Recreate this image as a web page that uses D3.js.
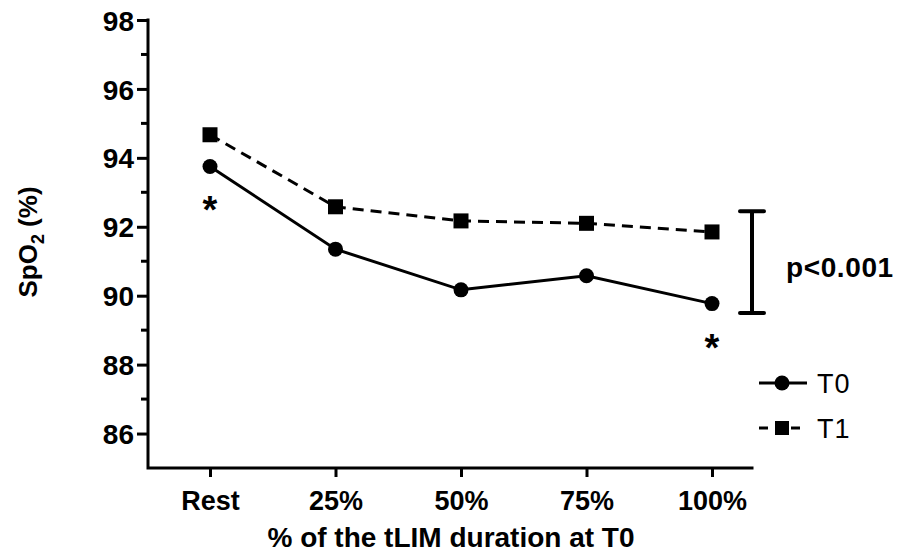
<!DOCTYPE html>
<html>
<head>
<meta charset="utf-8">
<script src="https://cdn.jsdelivr.net/npm/d3@7"></script>
<style>
  body { margin: 0; background: #fff; }
  svg text { font-family: "Liberation Sans", Arial, sans-serif; fill: #000; }
</style>
</head>
<body>
<svg id="chart" width="901" height="554"></svg>
<script>
// data
var categories = ['Rest', '25%', '50%', '75%', '100%'];
var t0 = [93.75, 91.35, 90.17, 90.58, 89.77];
var t1 = [94.67, 92.58, 92.17, 92.10, 91.85];
var starIdx = [0, 4];          // points of T0 flagged with *
var bracket = [89.5, 92.45];   // span of the significance bar
var yMajor = [86, 88, 90, 92, 94, 96, 98];
var yMinor = [87, 89, 91, 93, 95, 97];

var svg = d3.select('#chart');

var x = d3.scalePoint().domain(categories).range([210, 712]);
var y = d3.scaleLinear().domain([85, 98]).range([468, 20]);

var axisLeft = 148, axisRight = 752, axisBottom = y(85);

// y axis
var yAxis = svg.append('g').attr('transform', `translate(${axisLeft},0)`);
yAxis.call(d3.axisLeft(y).tickValues(yMajor).tickSize(11).tickPadding(3).tickFormat(d3.format('d')));
yAxis.select('.domain').remove();
yAxis.selectAll('.tick line').attr('stroke-width', 3);
yAxis.selectAll('.tick text').attr('font-size', 28).attr('font-weight', 'bold').attr('dy', '0.36em');
yAxis.selectAll('line.minor').data(yMinor).enter().append('line')
    .attr('class', 'minor')
    .attr('x1', -7).attr('x2', 0)
    .attr('y1', d => y(d)).attr('y2', d => y(d))
    .attr('stroke', '#000').attr('stroke-width', 3);

// x axis
var xAxis = svg.append('g').attr('transform', `translate(0,${axisBottom})`);
xAxis.call(d3.axisBottom(x).tickSize(9).tickPadding(14));
xAxis.select('.domain').remove();
xAxis.selectAll('.tick line').attr('stroke-width', 3);
xAxis.selectAll('.tick text').attr('font-size', 27).attr('font-weight', 'bold');

// axis lines (L-shape)
svg.append('path')
    .attr('d', `M${axisLeft},${y(98)}V${axisBottom}H${axisRight}`)
    .attr('fill', 'none').attr('stroke', '#000').attr('stroke-width', 3)
    .attr('stroke-linecap', 'square');

// titles
svg.append('text')
    .attr('x', 451).attr('y', 547)
    .attr('text-anchor', 'middle')
    .attr('font-size', 28).attr('font-weight', 'bold')
    .text('% of the tLIM duration at T0');

var yTitle = svg.append('text')
    .attr('transform', 'translate(37,242) rotate(-90)')
    .attr('text-anchor', 'middle')
    .attr('font-size', 26).attr('font-weight', 'bold');
yTitle.append('tspan').text('SpO');
yTitle.append('tspan').attr('font-size', 18).attr('dy', 7).text('2');
yTitle.append('tspan').attr('dy', -7).text(' (%)');

// lines
var line = d3.line().x((d, i) => x(categories[i])).y(d => y(d));

svg.append('path').datum(t1)
    .attr('d', line)
    .attr('fill', 'none').attr('stroke', '#000').attr('stroke-width', 3)
    .attr('stroke-dasharray', '11,7');

svg.append('path').datum(t0)
    .attr('d', line)
    .attr('fill', 'none').attr('stroke', '#000').attr('stroke-width', 3);

// markers
svg.selectAll('rect.t1').data(t1).enter().append('rect')
    .attr('class', 't1')
    .attr('x', (d, i) => x(categories[i]) - 7.5)
    .attr('y', d => y(d) - 7.5)
    .attr('width', 15).attr('height', 15)
    .attr('fill', '#000');

svg.selectAll('circle.t0').data(t0).enter().append('circle')
    .attr('class', 't0')
    .attr('cx', (d, i) => x(categories[i]))
    .attr('cy', d => y(d))
    .attr('r', 7.5)
    .attr('fill', '#000');

// asterisks
svg.selectAll('text.star').data(starIdx).enter().append('text')
    .attr('class', 'star')
    .attr('x', d => x(categories[d]))
    .attr('y', d => y(t0[d]) + 57)
    .attr('text-anchor', 'middle')
    .attr('font-size', 38).attr('font-weight', 'bold')
    .text('*');

// significance bracket
var bx = axisRight;
svg.append('path')
    .attr('d', `M${bx - 12},${y(bracket[1])}H${bx + 12}M${bx},${y(bracket[1])}V${y(bracket[0])}M${bx - 12},${y(bracket[0])}H${bx + 12}`)
    .attr('fill', 'none').attr('stroke', '#000').attr('stroke-width', 4)
    .attr('stroke-linecap', 'round');
svg.append('text')
    .attr('x', 786).attr('y', 277)
    .attr('font-size', 28).attr('font-weight', 'bold')
    .attr('letter-spacing', 0.6)
    .text('p<0.001');

// legend
var legend = svg.append('g').attr('transform', 'translate(759,383)');
var rows = legend.selectAll('g').data(['T0', 'T1']).enter().append('g')
    .attr('transform', (d, i) => `translate(0,${i * 45})`);
rows.append('line')
    .attr('x1', 0).attr('x2', 48).attr('y1', 0).attr('y2', 0)
    .attr('stroke', '#000').attr('stroke-width', 3)
    .attr('stroke-dasharray', (d, i) => i ? '9,7' : null);
rows.filter((d, i) => i === 0).append('circle')
    .attr('cx', 23).attr('cy', 0).attr('r', 7.5).attr('fill', '#000');
rows.filter((d, i) => i === 1).append('rect')
    .attr('x', 16).attr('y', -7).attr('width', 14).attr('height', 14).attr('fill', '#000');
rows.append('text')
    .attr('x', 58).attr('y', 10)
    .attr('font-size', 27)
    .attr('letter-spacing', 1)
    .text(d => d);
</script>
</body>
</html>
